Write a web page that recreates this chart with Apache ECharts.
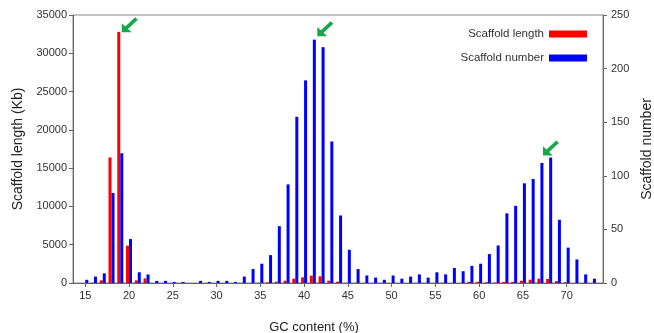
<!DOCTYPE html>
<html>
<head>
<meta charset="utf-8">
<script src="https://cdn.jsdelivr.net/npm/echarts@6/dist/echarts.min.js"></script>
<style>
  html, body { margin: 0; padding: 0; background: #fff; }
  #chart { width: 654px; height: 333px; }
</style>
</head>
<body>
<div id="chart"></div>
<script>
// GC content bins (%)
const gc = [15, 16, 17, 18, 19, 20, 21, 22, 23, 24, 25, 26, 27, 28, 29, 30, 31, 32, 33, 34,
  35, 36, 37, 38, 39, 40, 41, 42, 43, 44, 45, 46, 47, 48, 49, 50, 51, 52, 53, 54,
  55, 56, 57, 58, 59, 60, 61, 62, 63, 64, 65, 66, 67, 68, 69, 70, 71, 72, 73];
// scaffold length (Kb), left axis
const lengthKb = [0, 50, 350, 16400, 32800, 4870, 350, 600, 0, 0, 0, 0, 0, 0, 0, 0, 0, 0, 0, 0,
  30, 80, 170, 300, 570, 740, 960, 870, 300, 170, 30, 20, 0, 0, 0, 0, 0, 0, 0, 0,
  0, 40, 0, 0, 150, 150, 100, 60, 150, 150, 300, 430, 570, 520, 250, 100, 0, 0, 0];
// scaffold number, right axis
const number = [3, 6, 9, 84, 121, 41, 10, 8, 2, 2, 1, 1, 0, 2, 1, 2, 2, 1, 6, 13,
  18, 26, 53, 92, 155, 189, 227, 220, 132, 63, 31, 13, 7, 5, 3, 7, 4, 6, 8, 5,
  10, 8, 14, 11, 16, 18, 27, 35, 65, 72, 93, 97, 112, 117, 59, 33, 22, 8, 4];
const xTicks = [15, 20, 25, 30, 35, 40, 45, 50, 55, 60, 65, 70];

const arrow = 'path://M0,20 L0,9 L4,13 L15,2 L18,5 L7,16 L11,20 Z';
const green = '#15a84b';
const axisCol = '#666';
const font = 'Liberation Sans, Arial, sans-serif';

const chart = echarts.init(document.getElementById('chart'));
chart.setOption({
  animation: false,
  textStyle: {fontFamily: font},
  grid: {
    left: 73, right: 51, top: 15, bottom: 50, outerBoundsMode: 'none',
    show: true, borderColor: '#888', borderWidth: 1
  },
  legend: {
    orient: 'vertical', align: 'right', right: 62, top: 23,
    itemWidth: 38, itemHeight: 7, itemGap: 12, icon: 'rect',
    textStyle: {fontSize: 11.5, color: '#333', fontFamily: font},
    data: ['Scaffold length', 'Scaffold number']
  },
  xAxis: {
    type: 'value', min: 13.6, max: 74.15,
    name: 'GC content (%)', nameLocation: 'middle', nameGap: 38,
    nameTextStyle: {fontSize: 13, color: '#222', padding: [0, 48, 0, 0]},
    splitLine: {show: false},
    axisLine: {lineStyle: {color: axisCol}},
    axisTick: {customValues: xTicks, length: 4, lineStyle: {color: axisCol}},
    axisLabel: {customValues: xTicks, fontSize: 11, color: '#333', margin: 7}
  },
  yAxis: [{
    type: 'value', min: 0, max: 35000, interval: 5000,
    name: 'Scaffold length (Kb)', nameLocation: 'middle', nameGap: 44,
    nameTextStyle: {fontSize: 14, color: '#222'},
    splitLine: {show: false},
    axisLine: {show: true, lineStyle: {color: axisCol}},
    axisTick: {show: true, length: 4, lineStyle: {color: axisCol}},
    axisLabel: {fontSize: 11, color: '#333', margin: 6, formatter: v => String(v)}
  }, {
    type: 'value', min: 0, max: 250, interval: 50, position: 'right',
    name: 'Scaffold number', nameLocation: 'middle', nameGap: 29,
    nameTextStyle: {fontSize: 14, color: '#222'},
    splitLine: {show: false},
    axisLine: {show: true, lineStyle: {color: axisCol}},
    axisTick: {show: true, length: 4, lineStyle: {color: axisCol}},
    axisLabel: {fontSize: 11, color: '#333', margin: 8}
  }],
  series: [{
    name: 'Scaffold length', type: 'bar', yAxisIndex: 0,
    barWidth: 3, barGap: '0%',
    itemStyle: {color: '#ff0000'},
    data: gc.map((g, i) => [g, lengthKb[i]]),
    markPoint: {
      silent: true, symbol: arrow, symbolSize: [16, 15],
      itemStyle: {color: green}, label: {show: false},
      data: [{coord: [19, 32800], symbolOffset: [11, -7]}]
    }
  }, {
    name: 'Scaffold number', type: 'bar', yAxisIndex: 1,
    barWidth: 3, barGap: '0%',
    itemStyle: {color: '#0000ff'},
    data: gc.map((g, i) => [g, number[i]]),
    markPoint: {
      silent: true, symbol: arrow, symbolSize: [16, 15],
      itemStyle: {color: green}, label: {show: false},
      data: [
        {coord: [41, 227], symbolOffset: [11, -11]},
        {coord: [67, 112], symbolOffset: [9, -15]}
      ]
    }
  }]
});
</script>
</body>
</html>
